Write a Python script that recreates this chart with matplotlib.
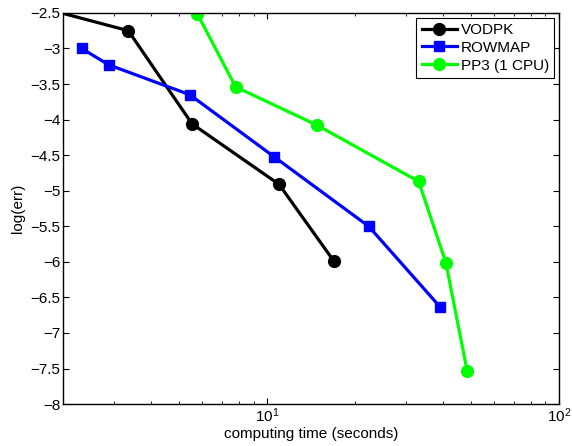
import matplotlib
matplotlib.use("Agg")
import matplotlib.pyplot as plt
from matplotlib.ticker import LogLocator, FixedLocator, NullFormatter

plt.rcParams['font.family'] = ['Liberation Sans', 'DejaVu Sans']
plt.rcParams['mathtext.fontset'] = 'custom'
plt.rcParams['mathtext.rm'] = 'Liberation Sans'
plt.rcParams['mathtext.it'] = 'Liberation Sans:italic'

# Data (computing time in seconds, log of error)
vodpk_t = [1.5, 3.35, 5.54, 11.0, 16.95]
vodpk_e = [-2.37, -2.75, -4.06, -4.91, -5.99]
rowmap_t = [2.32, 2.87, 5.44, 10.56, 22.3, 39.3]
rowmap_e = [-3.0, -3.23, -3.65, -4.52, -5.5, -6.64]
pp3_t = [5.77, 7.81, 14.87, 33.1, 41.0, 48.5]
pp3_e = [-2.51, -3.54, -4.08, -4.87, -6.01, -7.53]

labels = ["VODPK", "ROWMAP", "PP3 (1 CPU)"]
yticks = [-8, -7.5, -7, -6.5, -6, -5.5, -5, -4.5, -4, -3.5, -3, -2.5]

fig = plt.figure(figsize=(5.72, 4.46), dpi=100)
ax = fig.add_axes([0.110, 0.094, 0.867, 0.877])

ax.plot(vodpk_t, vodpk_e, '-o', color='black', lw=2.3, ms=8.5, label=labels[0])
ax.plot(rowmap_t, rowmap_e, '-s', color='#0000ff', lw=2.3, ms=7.5, label=labels[1])
ax.plot(pp3_t, pp3_e, '-o', color='#00ff00', lw=2.3, ms=8.5, label=labels[2])

ax.set_xscale('log')
ax.set_xlim(2, 100)
ax.set_ylim(-8, -2.5)
ax.set_yticks(yticks)
ax.set_yticklabels([('%g' % v).replace('-', '\u2212') for v in yticks])
ax.xaxis.set_major_locator(FixedLocator([10, 100]))
ax.xaxis.set_minor_locator(LogLocator(base=10, subs=range(2, 10)))
ax.xaxis.set_minor_formatter(NullFormatter())

ax.tick_params(which='both', direction='in', top=True, right=True, labelsize=11, pad=2)
ax.tick_params(which='major', length=4, width=0.8)
ax.tick_params(which='minor', length=2.5, width=0.6)
for s in ax.spines.values():
    s.set_linewidth(1.0)

ax.set_xlabel('computing time (seconds)', fontsize=11, labelpad=1)
ax.set_ylabel('log(err)', fontsize=11, labelpad=4)

leg = ax.legend(loc='upper right', fontsize=11, frameon=True, fancybox=False,
                edgecolor='black', framealpha=1, borderpad=0.35, labelspacing=0.25,
                handlelength=2.3, handletextpad=0.25, borderaxespad=0.3)
leg.get_frame().set_linewidth(0.8)

fig.savefig('out.png', dpi=100)
